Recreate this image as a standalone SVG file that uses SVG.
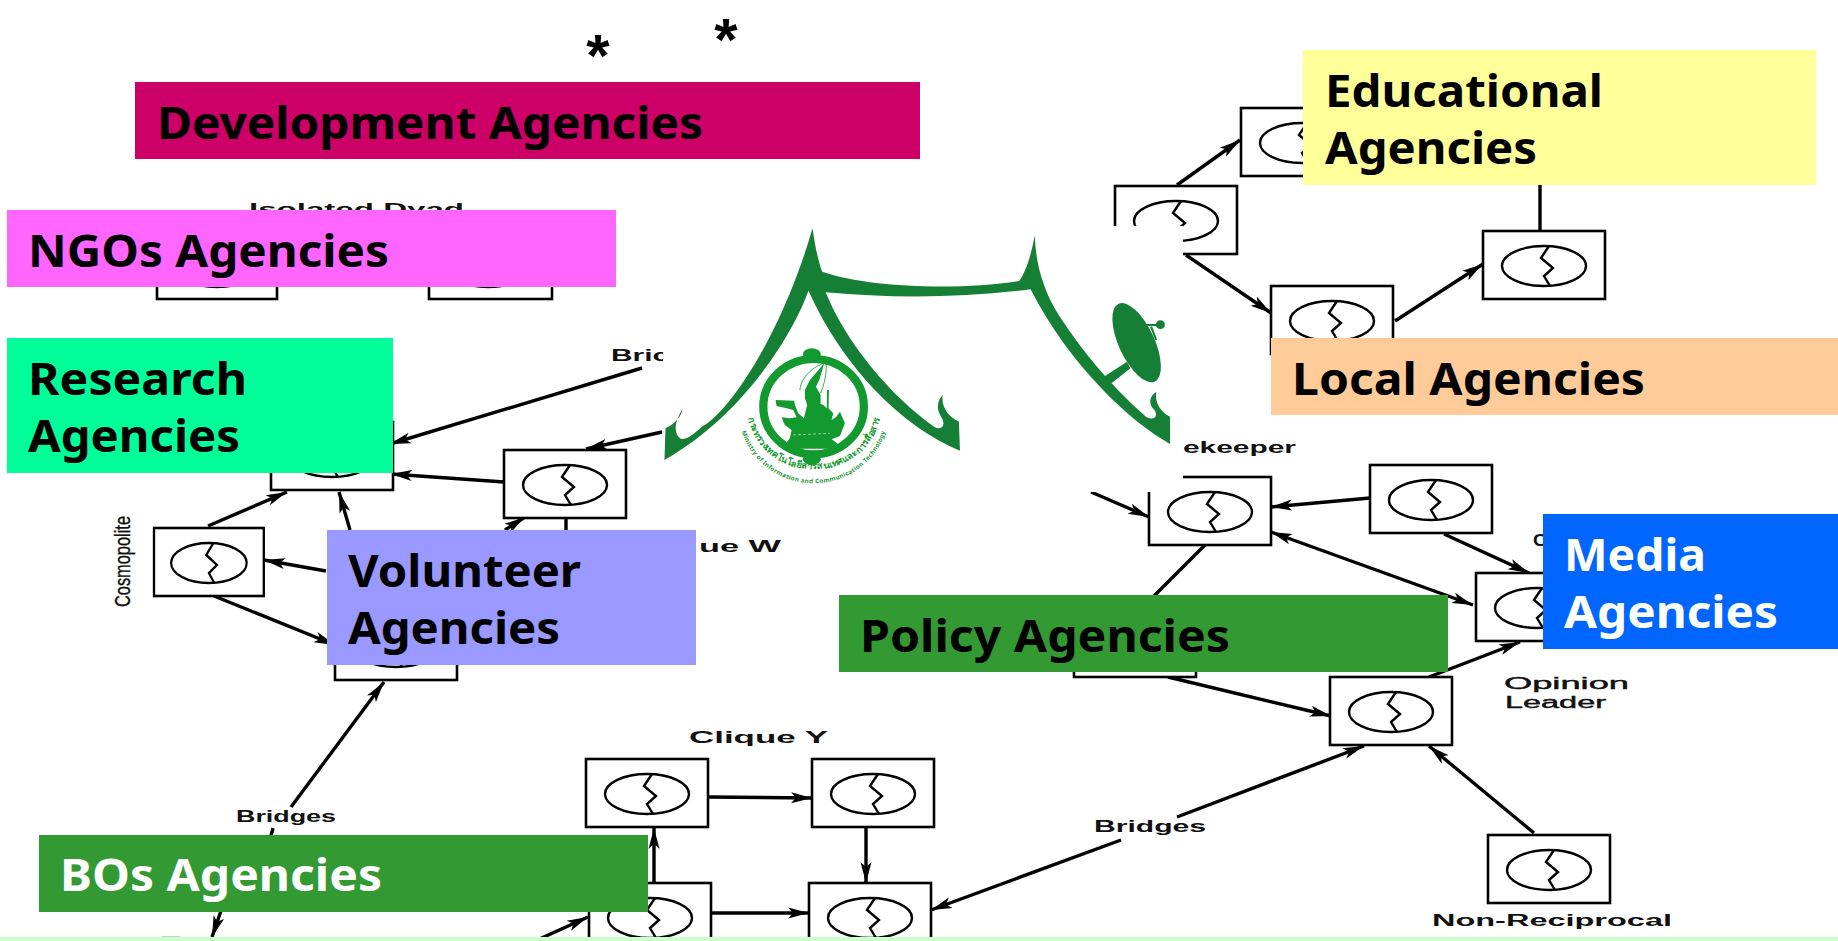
<svg xmlns="http://www.w3.org/2000/svg" width="1838" height="941" viewBox="0 0 1838 941">
<style>
.box{fill:#fff;stroke:#000;stroke-width:2.6}
.ell{fill:#fff;stroke:#000;stroke-width:2.4}
.zig{fill:none;stroke:#000;stroke-width:2.4}
.cn{fill:none;stroke:#000;stroke-width:3.4}
.arr{marker-end:url(#ah)}
.lab{font-family:"Liberation Sans",Arial,sans-serif;font-weight:700;font-size:16px;fill:#111}
.thin{font-weight:400;stroke:#111;stroke-width:.4}
.ag{font-family:"Noto Sans","Open Sans",sans-serif;font-weight:700;font-size:45px;fill:#000}
.wh{fill:#fff}
.ast{font-family:"Liberation Sans",Arial,sans-serif;font-weight:700;font-size:60px;fill:#000}
.lg{fill:#157f35}
.em{fill:#129a2e}
.lgt{font-family:"Noto Sans","DejaVu Sans",sans-serif;font-weight:700;fill:#129a2e}
</style>
<defs>
<marker id="ah" markerUnits="userSpaceOnUse" markerWidth="22" markerHeight="14" refX="21" refY="7" orient="auto"><path d="M0,1.5 L21,7 L0,12.5 L5,7 Z" fill="#000"/></marker>
<marker id="ahs" markerUnits="userSpaceOnUse" markerWidth="22" markerHeight="14" refX="1" refY="7" orient="auto"><path d="M22,1.5 L1,7 L22,12.5 L17,7 Z" fill="#000"/></marker>
<g id="nd"><rect class="box" width="122" height="68"/><ellipse class="ell" cx="61" cy="35" rx="42" ry="20"/><path class="zig" d="M66,15 L58,27 L70,37 L61,45 L67,55"/></g>
<path id="thaiArc" d="M284,570 A192,178 0 0 0 668,570"/>
<path id="engArc" d="M256,568 A219,222 0 0 0 694,568"/>
</defs>
<rect width="1838" height="941" fill="#fff"/>
<g id="connectors">
<path class="cn arr" d="M1177,185 L1240,140"/>
<path class="cn arr" d="M1186,255 L1271,313"/>
<path class="cn arr" d="M1395,321 L1483,264"/>
<path class="cn" d="M1540,230 L1540,170"/>
<path class="cn arr" d="M504,482 L391,474"/>
<path class="cn arr" d="M642,368 L390,444"/>
<path class="cn arr" d="M662,432 L586,449"/>
<path class="cn arr" d="M208,526 L287,492"/>
<path class="cn arr" d="M350,530 L339,492"/>
<path class="cn arr" d="M326,571 L264,560"/>
<path class="cn arr" d="M214,596 L335,645"/>
<path class="cn arr" d="M505,530 L525,517"/>
<path class="cn" d="M566,517 L566,535"/>
<path class="cn arr" d="M291,807 L384,682"/>
<path class="cn" d="M273,828 L270,840"/>
<path class="cn arr" d="M223,905 L212,937"/>
<path class="cn arr" d="M708,797 L812,798"/>
<path class="cn arr" d="M866,828 L866,883"/>
<path class="cn arr" d="M654,883 L654,828"/>
<path class="cn arr" d="M710,913 L809,913"/>
<path class="cn arr" d="M535,941 L588,917"/>
<path class="cn arr" d="M1121,840 L931,910"/>
<path class="cn arr" d="M1177,817 L1364,746"/>
<path class="cn arr" d="M1370,498 L1271,507"/>
<path class="cn arr" d="M1091,492 L1149,517"/>
<path class="cn" d="M1205,545 L1150,600"/>
<path class="cn arr" d="M1473,605 L1271,532" marker-start="url(#ahs)"/>
<path class="cn arr" d="M1444,534 L1529,573"/>
<path class="cn arr" d="M1429,677 L1520,642"/>
<path class="cn arr" d="M1168,677 L1331,716"/>
<path class="cn arr" d="M1534,833 L1429,746"/>
</g>
<g id="node-a"><use href="#nd" x="1241" y="108"/></g>
<g id="node-b"><use href="#nd" x="1115" y="186"/></g>
<g id="node-c"><use href="#nd" x="1271" y="286"/></g>
<g id="node-d"><use href="#nd" x="1483" y="231"/></g>
<g id="node-e"><use href="#nd" x="271" y="422"/></g>
<g id="node-f"><use href="#nd" x="504" y="450"/></g>
<g id="node-g"><use href="#nd" transform="translate(154,528) scale(.9,1)"/></g>
<g id="node-h"><use href="#nd" x="335" y="612"/></g>
<g id="node-i"><use href="#nd" x="586" y="759"/></g>
<g id="node-j"><use href="#nd" x="812" y="759"/></g>
<g id="node-k"><use href="#nd" x="589" y="883"/></g>
<g id="node-l"><use href="#nd" x="809" y="883"/></g>
<g id="node-m"><use href="#nd" x="1149" y="477"/></g>
<g id="node-n"><use href="#nd" x="1370" y="465"/></g>
<g id="node-o"><use href="#nd" x="1476" y="573"/></g>
<g id="node-p"><use href="#nd" x="1330" y="677"/></g>
<g id="node-q"><use href="#nd" x="1074" y="609"/></g>
<g id="node-r"><use href="#nd" x="1488" y="835"/></g>
<g id="node-s"><rect class="box" x="157" y="232" width="120" height="67"/><ellipse class="ell" cx="217" cy="267" rx="42" ry="20"/></g>
<g id="node-t"><rect class="box" x="429" y="232" width="123" height="67"/><ellipse class="ell" cx="488" cy="267" rx="42" ry="20"/></g>
<g id="node-u"><rect x="162" y="936" width="18" height="5" fill="#ccc"/></g>
<g id="labels">
<text class="lab" x="249" y="215" textLength="215" lengthAdjust="spacingAndGlyphs">Isolated Dyad</text>
<text class="lab" x="611" y="361" textLength="58" lengthAdjust="spacingAndGlyphs">Bric</text>
<text class="lab" x="1183" y="453" textLength="113" lengthAdjust="spacingAndGlyphs">ekeeper</text>
<text class="lab" x="699" y="552" textLength="82" lengthAdjust="spacingAndGlyphs">ue W</text>
<text class="lab" x="236" y="822" textLength="100" lengthAdjust="spacingAndGlyphs">Bridges</text>
<text class="lab" x="1094" y="832" textLength="112" lengthAdjust="spacingAndGlyphs">Bridges</text>
<text class="lab" x="689" y="743" textLength="139" lengthAdjust="spacingAndGlyphs">Clique Y</text>
<text class="lab thin" x="1504" y="689" textLength="125" lengthAdjust="spacingAndGlyphs">Opinion</text>
<text class="lab thin" x="1505" y="708" textLength="101" lengthAdjust="spacingAndGlyphs">Leader</text>
<text class="lab" x="1432" y="926" textLength="240" lengthAdjust="spacingAndGlyphs">Non-Reciprocal</text>
<text class="lab" x="1533" y="546" textLength="14" lengthAdjust="spacingAndGlyphs">C</text>
<text class="lab thin" transform="translate(130,607) rotate(-90)" style="font-size:22px" textLength="91" lengthAdjust="spacingAndGlyphs">Cosmopolite</text>
</g>
<g id="logo">
<rect class="wh" x="663" y="226" width="520" height="266"/>
<g transform="translate(650,220) scale(.3444,.3333)">
<path class="lg" d="M472,25 C478,70 487,120 500,155 C640,205 900,210 1072,183 C1095,150 1110,90 1117,45 C1120,130 1140,210 1190,290 C1250,385 1330,490 1440,590 C1465,605 1480,585 1460,565 C1445,545 1455,525 1470,515 C1465,545 1480,575 1510,590 L1510,672 C1400,610 1220,440 1105,208 C900,235 700,235 510,217 C570,370 700,530 825,620 C850,635 860,610 845,590 C830,565 835,540 850,525 C845,560 865,590 897,605 L900,692 C730,620 560,440 460,212 C420,330 280,580 42,720 L45,625 C75,610 90,590 95,565 C75,600 65,635 87,655 C100,665 130,640 150,620 C215,590 375,370 472,25 Z"/>
<ellipse class="lg" cx="1413" cy="368" rx="52" ry="128" transform="rotate(-24 1413 368)"/>
<path class="lg" d="M1318,470 L1385,425 L1395,445 L1340,490 Z"/>
<path d="M1440,315 L1482,315 M1455,320 L1470,360" fill="none" stroke="#157f35" stroke-width="6"/>
<circle class="lg" cx="1482" cy="314" r="13"/>
<ellipse cx="475" cy="560" rx="146" ry="143" fill="#fff" stroke="#129a2e" stroke-width="24"/>
<ellipse class="em" cx="470" cy="402" rx="26" ry="17"/>
<ellipse class="em" cx="470" cy="718" rx="26" ry="17"/>
<g transform="translate(232,330) scale(.968,1)">
<path class="em" d="M168,356 L322,356 L322,340 L305,328 L330,318 L345,280 L330,245 L318,262 L305,270 L310,250 L296,235 L297,180 L291,180 L291,235 L280,225 L272,222 L272,195 L258,170 L268,150 L283,100 L240,150 L225,180 L225,205 L232,225 L222,265 L205,250 L195,225 L193,212 L137,210 L140,228 L170,235 L190,240 L200,262 L180,265 L155,262 L165,285 L185,300 L180,325 L168,340 Z"/>
<path d="M288,98 C240,112 212,150 210,180 M288,100 C292,130 282,165 272,190" fill="none" stroke="#129a2e" stroke-width="2.5"/>
<path d="M190,315 L300,310" fill="none" stroke="#dff3df" stroke-width="2" stroke-dasharray="8 7"/>
</g>
<text class="lgt" style="font-size:27px" text-anchor="middle"><textPath href="#thaiArc" startOffset="50%">กระทรวงเทคโนโลยีสารสนเทศและการสื่อสาร</textPath></text>
<text class="lgt" style="font-size:18px" text-anchor="middle" letter-spacing="1"><textPath href="#engArc" startOffset="50%">Ministry of Information and Communication Technology</textPath></text>
</g>
</g>
<text class="ast" x="598" y="76" text-anchor="middle">*</text>
<text class="ast" x="726" y="60" text-anchor="middle">*</text>
<g id="dev"><rect x="135" y="82" width="785" height="77" fill="#cc0066"/><text class="ag" x="157" y="139" textLength="546" lengthAdjust="spacingAndGlyphs">Development Agencies</text></g>
<g id="ngos"><rect x="7" y="210" width="609" height="77" fill="#ff66ff"/><text class="ag" x="28" y="267" textLength="361" lengthAdjust="spacingAndGlyphs">NGOs Agencies</text></g>
<g id="research"><rect x="7" y="338" width="386" height="135" fill="#00ff99"/><text class="ag" x="28" y="395" textLength="219" lengthAdjust="spacingAndGlyphs">Research</text><text class="ag" x="28" y="452" textLength="212" lengthAdjust="spacingAndGlyphs">Agencies</text></g>
<g id="volunteer"><rect x="327" y="530" width="369" height="135" fill="#9999ff"/><text class="ag" x="348" y="587" textLength="233" lengthAdjust="spacingAndGlyphs">Volunteer</text><text class="ag" x="348" y="644" textLength="212" lengthAdjust="spacingAndGlyphs">Agencies</text></g>
<g id="educational"><rect x="1303" y="50" width="513" height="135" fill="#ffff99"/><text class="ag" x="1325" y="107" textLength="278" lengthAdjust="spacingAndGlyphs">Educational</text><text class="ag" x="1325" y="164" textLength="212" lengthAdjust="spacingAndGlyphs">Agencies</text></g>
<g id="local"><rect x="1271" y="338" width="567" height="77" fill="#ffcc99"/><text class="ag" x="1292" y="395" textLength="353" lengthAdjust="spacingAndGlyphs">Local Agencies</text></g>
<g id="media"><rect x="1543" y="514" width="295" height="135" fill="#0066ff"/><text class="ag" x="1564" y="571" textLength="142" lengthAdjust="spacingAndGlyphs" style="fill:#fff">Media</text><text class="ag" x="1564" y="628" textLength="214" lengthAdjust="spacingAndGlyphs" style="fill:#fff">Agencies</text></g>
<g id="policy"><rect x="839" y="595" width="609" height="77" fill="#339933"/><text class="ag" x="860" y="652" textLength="370" lengthAdjust="spacingAndGlyphs">Policy Agencies</text></g>
<g id="bos"><rect x="39" y="835" width="609" height="77" fill="#339933"/><text class="ag" x="60" y="891" textLength="322" lengthAdjust="spacingAndGlyphs" style="fill:#fff">BOs Agencies</text></g>
<rect id="band" x="0" y="937" width="1838" height="4" fill="#ccffcc"/>
</svg>
